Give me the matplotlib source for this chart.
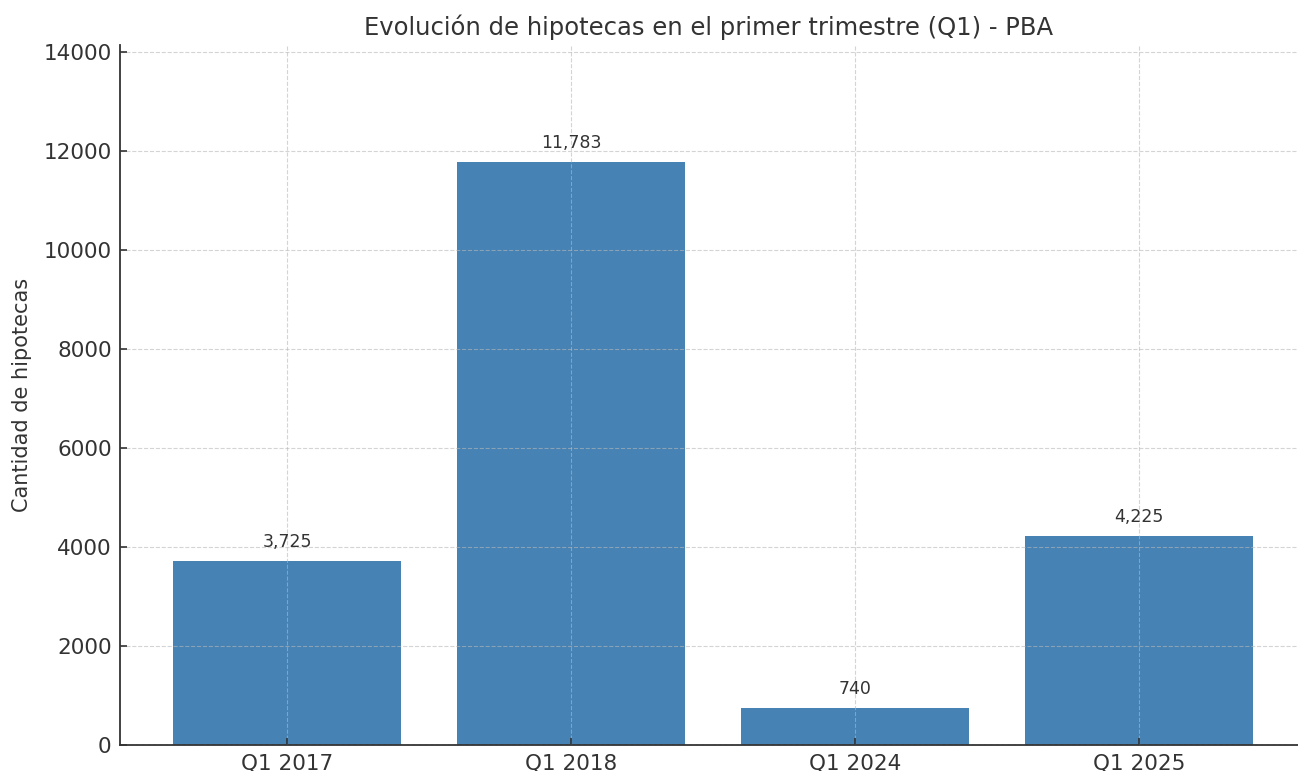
import matplotlib
matplotlib.use("Agg")
import matplotlib.pyplot as plt

categories = ["Q1 2017", "Q1 2018", "Q1 2024", "Q1 2025"]
values = [3725, 11783, 740, 4225]

title = "Evolución de hipotecas en el primer trimestre (Q1) - PBA"
ylabel = "Cantidad de hipotecas"

plt.rcParams['font.family'] = ['DejaVu Sans']
text_color = "#333333"

fig = plt.figure(figsize=(12.98, 7.71), dpi=100)
ax = fig.add_axes([120/1298, 26/771, (1298-120)/1298, (745-45)/771])

x = list(range(len(categories)))
bars = ax.bar(x, values, width=0.8, color="#4682B4", zorder=2)

for xi, v in zip(x, values):
    ax.text(xi, v + 200, f"{v:,}", ha="center", va="bottom",
            fontsize=12.5, color=text_color, zorder=4)

ax.set_xticks(x)
ax.set_xticklabels(categories)
ax.set_xlim(-0.588, 3.56)
ax.set_ylim(0, 14140)
ax.set_yticks(range(0, 14001, 2000))

ax.grid(True, linestyle="--", color="#b8b8b8", alpha=0.6, linewidth=0.8, zorder=3)
ax.set_axisbelow(False)
for line in ax.get_xgridlines() + ax.get_ygridlines():
    line.set_zorder(3)

ax.spines["top"].set_visible(False)
ax.spines["right"].set_visible(False)
for s in ("left", "bottom"):
    ax.spines[s].set_color("#333333")
    ax.spines[s].set_linewidth(1.3)

ax.tick_params(axis="both", direction="in", length=5, width=1.2,
               color="#333333", labelsize=15.5, labelcolor=text_color, pad=6)

ax.set_title(title, fontsize=17.5, color=text_color, pad=7)
ax.set_ylabel(ylabel, fontsize=15, color=text_color, labelpad=8)

fig.savefig("out.png", dpi=100)
